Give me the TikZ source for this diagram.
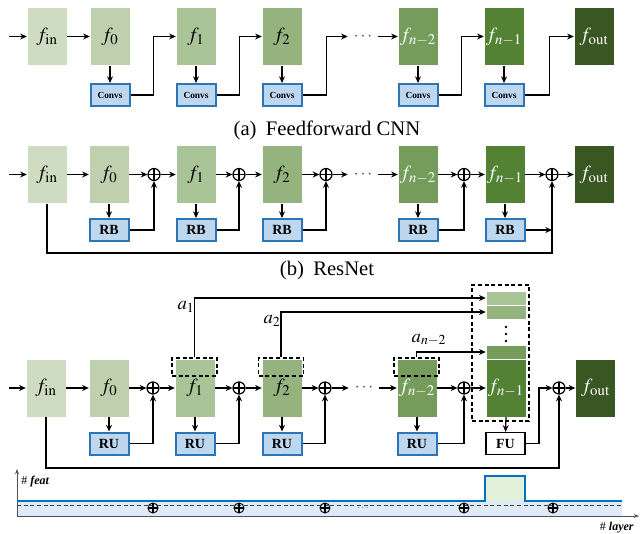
\documentclass[tikz,border=0pt]{standalone}
\usepackage{mathptmx}
\usepackage{fontspec}
\setmainfont{Liberation Serif}
\usetikzlibrary{arrows.meta,calc}
\definecolor{gA}{RGB}{206,220,194}
\definecolor{gB}{RGB}{190,208,173}
\definecolor{gC}{RGB}{169,196,151}
\definecolor{gD}{RGB}{149,179,127}
\definecolor{gE}{RGB}{117,156,90}
\definecolor{gF}{RGB}{83,130,53}
\definecolor{gG}{RGB}{56,87,35}
\definecolor{bfill}{RGB}{189,215,238}
\definecolor{bdraw}{RGB}{46,117,182}
\definecolor{lblue}{RGB}{222,235,247}
\definecolor{lgreen}{RGB}{226,239,217}
\definecolor{lineblue}{RGB}{0,112,192}
\definecolor{axiscol}{RGB}{68,84,106}
\tikzset{
  fbox/.style={minimum width=30pt, minimum height=43.5pt, inner sep=0pt, draw=white, line width=0.3pt, font=\fontsize{15}{17}\selectfont},
  piece/.style={minimum width=30pt, minimum height=10.5pt, inner sep=0pt, draw=white, line width=0.4pt},
  blk/.style={draw=bdraw, fill=bfill, line width=1.5pt, minimum width=29.25pt, minimum height=16.5pt, inner sep=0pt, font=\bfseries\fontsize{10.5}{12}\selectfont},
  conv/.style={blk, font=\bfseries\fontsize{7}{8}\selectfont},
  fubox/.style={draw=black, fill=white, line width=1.1pt, minimum width=29.25pt, minimum height=16.5pt, inner sep=0pt, font=\bfseries\fontsize{10.5}{12}\selectfont},
  op/.style={circle, draw, line width=0.9pt, minimum size=9pt, inner sep=0pt,
    path picture={\draw[line width=0.9pt] (path picture bounding box.north) -- (path picture bounding box.south) (path picture bounding box.west) -- (path picture bounding box.east);}},
  opsmall/.style={op, minimum size=7.5pt, line width=0.7pt},
  arr/.style={-{Stealth[length=5pt,width=4.5pt]}, line width=0.9pt},
  dotsn/.style={minimum width=22.5pt, inner sep=0pt, font=\fontsize{13}{15}\selectfont, text=black!70},
  dbox/.style={draw, line width=0.8pt, dash pattern=on 3pt off 2pt, minimum width=33.75pt, minimum height=13.5pt, inner sep=0pt},
  captext/.style={anchor=base, font=\fontsize{15.5}{18}\selectfont},
  lab/.style={font=\fontsize{14}{16}\selectfont, inner sep=0pt},
}
\begin{document}
\begin{tikzpicture}[x=0.75pt, y=-0.75pt]
\useasboundingbox (0,0) rectangle (640,533);

% ---------------- (a) Feedforward CNN ----------------
\coordinate (ain) at (9,36.5);
\node[fbox,fill=gA] (afin) at (47,36.5) {$f_{\mathrm{in}}$};
\node[fbox,fill=gB] (af0) at (110,36.5) {$f_0$};
\node[fbox,fill=gC] (af1) at (196,36.5) {$f_1$};
\node[fbox,fill=gD] (af2) at (282,36.5) {$f_2$};
\node[dotsn] (adots) at (363,36.5) {$\cdots$};
\node[fbox,fill=gE,text=white] (afn2) at (418,36.5) {$f_{n-2}$};
\node[fbox,fill=gF,text=white] (afn1) at (504,36.5) {$f_{n-1}$};
\node[fbox,fill=gG,text=white] (afout) at (594,36.5) {$f_{\mathrm{out}}$};
\node[conv] (ac0) at (110,95) {Convs};
\node[conv] (ac1) at (196,95) {Convs};
\node[conv] (ac2) at (282,95) {Convs};
\node[conv] (acn2) at (418,95) {Convs};
\node[conv] (acn1) at (504,95) {Convs};
\draw[arr] (ain) -- (afin.west);
\draw[arr] (afin.east) -- (af0.west);
\foreach \a in {0,1,2,n2,n1}{\draw[arr] (af\a.south) -- (ac\a.north);}
\draw[arr] (ac0.east) -| ($(ac0.east)!.5!(af1.west)$) |- (af1.west);
\draw[arr] (ac1.east) -| ($(ac1.east)!.5!(af2.west)$) |- (af2.west);
\draw[arr] (ac2.east) -- ++(24,0) |- (adots.west);
\draw[arr] (adots.east) -- (afn2.west);
\draw[arr] (acn2.east) -| ($(acn2.east)!.5!(afn1.west)$) |- (afn1.west);
\draw[arr] (acn1.east) -| ($(acn1.east)!.5!(afout.west)$) |- (afout.west);
\node[captext] (capa) at (327,135) {(a)\hspace{0.45em}Feedforward CNN};

% ---------------- (b) ResNet ----------------
\coordinate (bin) at (9,174.5);
\node[fbox,fill=gA] (bfin) at (47,174.5) {$f_{\mathrm{in}}$};
\node[fbox,fill=gB] (bf0) at (109,174.5) {$f_0$};
\node[op] (bp0) at (154,174.5) {};
\node[fbox,fill=gC] (bf1) at (196,174.5) {$f_1$};
\node[op] (bp1) at (239,174.5) {};
\node[fbox,fill=gD] (bf2) at (282,174.5) {$f_2$};
\node[op] (bp2) at (326,174.5) {};
\node[dotsn] (bdots) at (363,174.5) {$\cdots$};
\node[fbox,fill=gE,text=white] (bfn2) at (418,174.5) {$f_{n-2}$};
\node[op] (bpn2) at (464,174.5) {};
\node[fbox,fill=gF,text=white] (bfn1) at (505,174.5) {$f_{n-1}$};
\node[op] (bpn1) at (552,174.5) {};
\node[fbox,fill=gG,text=white] (bfout) at (594,174.5) {$f_{\mathrm{out}}$};
\node[blk] (br0) at (109,230) {RB};
\node[blk] (br1) at (196,230) {RB};
\node[blk] (br2) at (282,230) {RB};
\node[blk] (brn2) at (418,230) {RB};
\node[blk] (brn1) at (505,230) {RB};
\draw[arr] (bin) -- (bfin.west);
\draw[arr] (bfin.east) -- (bf0.west);
\draw[arr] (bf0.east) -- (bp0.west);
\draw[arr] (bp0.east) -- (bf1.west);
\draw[arr] (bf1.east) -- (bp1.west);
\draw[arr] (bp1.east) -- (bf2.west);
\draw[arr] (bf2.east) -- (bp2.west);
\draw[arr] (bp2.east) -- (bdots.west);
\draw[arr] (bdots.east) -- (bfn2.west);
\draw[arr] (bfn2.east) -- (bpn2.west);
\draw[arr] (bpn2.east) -- (bfn1.west);
\draw[arr] (bfn1.east) -- (bpn1.west);
\draw[arr] (bpn1.east) -- (bfout.west);
\foreach \a in {0,1,2,n2,n1}{\draw[arr] (bf\a.south) -- (br\a.north);}
\draw[arr] (br0.east) -| (bp0.south);
\draw[arr] (br1.east) -| (bp1.south);
\draw[arr] (br2.east) -| (bp2.south);
\draw[arr] (brn2.east) -| (bpn2.south);
\coordinate (bcorner) at (552,253);
\draw[arr] (brn1.east) -- (brn1.east -| bpn1.south);
\draw[arr] (bfin.south) |- (bcorner) -- (bpn1.south);
\node[captext] (capb) at (327,275) {(b)\hspace{0.45em}ResNet};

% ---------------- (c) ----------------
\coordinate (cin) at (9,388);
\node[fbox,fill=gA] (cfin) at (46,388) {$f_{\mathrm{in}}$};
\node[fbox,fill=gB] (cf0) at (109,388) {$f_0$};
\node[op] (cp0) at (153,388) {};
\node[fbox,fill=gC] (cf1) at (195,388) {$f_1$};
\node[op] (cp1) at (239,388) {};
\node[fbox,fill=gD] (cf2) at (282,388) {$f_2$};
\node[op] (cp2) at (325,388) {};
\node[dotsn] (cdots) at (364,388) {$\cdots$};
\node[fbox,fill=gE,text=white] (cfn2) at (417,388) {$f_{n-2}$};
\node[op] (cpn2) at (464,388) {};
\node[fbox,fill=gF,text=white] (cfn1) at (506,388) {$f_{n-1}$};
\node[op] (cpn1) at (559,388) {};
\node[fbox,fill=gG,text=white] (cfout) at (595.5,388) {$f_{\mathrm{out}}$};
% dashed top parts
\node[dbox] (cd1) at (194.5,367) {};
\node[dbox] (cd2) at (281,367) {};
\node[dbox] (cdn2) at (416.5,367) {};
% stack
\node[piece,fill=gC] (cs1) at (506,298) {};
\node[piece,fill=gD] (cs2) at (506,312) {};
\node[piece,fill=gE] (cs3) at (506,352) {};
\fill (506,327) circle (1.4);
\fill (506,334) circle (1.4);
\fill (506,341) circle (1.4);
\node[draw, line width=0.8pt, dash pattern=on 3pt off 2pt, minimum width=42.75pt, minimum height=102pt, inner sep=0pt] (cstack) at (500.5,353) {};
% blocks
\node[blk] (cr0) at (109,443.5) {RU};
\node[blk] (cr1) at (195,443.5) {RU};
\node[blk] (cr2) at (282,443.5) {RU};
\node[blk] (crn2) at (417,443.5) {RU};
\node[fubox] (cfu) at (505.5,443.5) {FU};
% arrows main row
\draw[arr] (cin) -- (cfin.west);
\draw[arr] (cfin.east) -- (cf0.west);
\draw[arr] (cf0.east) -- (cp0.west);
\draw[arr] (cp0.east) -- (cf1.west);
\draw[arr] (cf1.east) -- (cp1.west);
\draw[arr] (cp1.east) -- (cf2.west);
\draw[arr] (cf2.east) -- (cp2.west);
\draw[arr] (cp2.east) -- (cdots.west);
\draw[arr] (cdots.east) -- (cfn2.west);
\draw[arr] (cfn2.east) -- (cpn2.west);
\draw[arr] (cpn2.east) -- (cfn1.west);
\draw[arr] (cpn1.east) -- (cfout.west);
\foreach \a in {0,1,2,n2}{\draw[arr] (cf\a.south) -- (cr\a.north);}
\draw[arr] (cfn1.south) -- (cfu.north);
\draw[arr] (cr0.east) -| (cp0.south);
\draw[arr] (cr1.east) -| (cp1.south);
\draw[arr] (cr2.east) -| (cp2.south);
\draw[arr] (crn2.east) -| (cpn2.south);
\draw[arr] (cfu.east) -| ($(cfu.east)!.5!(cpn1.west)$) |- (cpn1.west);
\coordinate (ccorner) at (559,468);
\draw[arr] (cfin.south) |- (ccorner) -- (cpn1.south);
% dense connections
\draw[arr] (cd1.north) |- (cs1.west);
\draw[arr] (cd2.north) |- (cs2.west);
\draw[arr] (cdn2.north) |- (cs3.west);
\node[lab] (la1) at (186,307) {$a_1$};
\node[lab] (la2) at (272,321) {$a_2$};
\node[lab] (lan2) at (429,340) {$a_{n-2}$};

% ---------------- feature chart ----------------
\fill[lblue] (17,501) rectangle (622,516);
\fill[lgreen] (485,476) rectangle (525,501);
\draw[lineblue, line width=1.5pt] (17,501) -- (485,501) -- (485,476) -- (525,476) -- (525,501) -- (622,501);
\draw[black!75, line width=0.6pt, dash pattern=on 3pt off 2pt] (17,505) -- (622,505);
\node[opsmall] (hp0) at (153,508) {};
\node[opsmall] (hp1) at (239,508) {};
\node[opsmall] (hp2) at (325,508) {};
\node[opsmall] (hp3) at (464,508) {};
\node[opsmall] (hp4) at (553,508) {};
\node[font=\fontsize{8}{9}\selectfont, text=black!60, inner sep=0pt] (hdots) at (363,508) {$\cdots$};
\draw[axiscol, line width=0.6pt, -{Stealth[length=4pt,width=3pt]}] (17,516) -- (17,469);
\draw[axiscol, line width=0.6pt, -{Stealth[length=4pt,width=3pt]}] (17,516) -- (639,516);
\node[anchor=west, inner sep=0pt, font=\fontsize{9}{10}\selectfont] (lfeat) at (21,482) {\# \textbf{\textit{feat}}};
\node[anchor=east, inner sep=0pt, font=\fontsize{9}{10}\selectfont] (llayer) at (634,528) {\# \textbf{\textit{layer}}};
\end{tikzpicture}
\end{document}
